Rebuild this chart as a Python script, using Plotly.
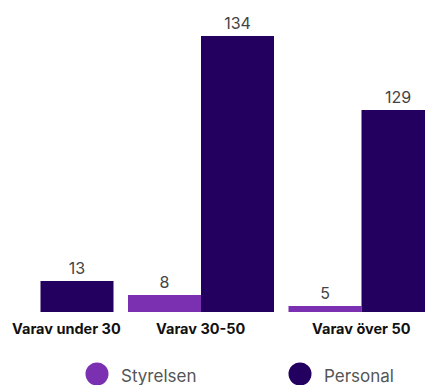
import plotly.graph_objects as go

# ---- data ----
categories = ["Varav under 30", "Varav 30-50", "Varav över 50"]
series_names = ["Styrelsen", "Personal"]
styrelsen_labels = [None, 8, 5]
personal_labels = [13, 134, 129]
# bar lengths as drawn in the reference picture
styrelsen_bars = [None, 8.25, 2.9]
personal_bars = [15.1, 134, 98.1]
colors = ["#7a30b0", "#23005f"]

W, H = 425, 385
plot_bottom = 73
x_idx = list(range(len(categories)))

fig = go.Figure()
for name, bars, labels, col in zip(series_names,
                                    [styrelsen_bars, personal_bars],
                                    [styrelsen_labels, personal_labels],
                                    colors):
    fig.add_trace(go.Bar(
        x=x_idx, y=bars, name=name,
        marker=dict(color=col, line=dict(width=0)),
        text=[("" if v is None else str(v)) for v in labels],
        texttemplate="%{text}",
        textposition="outside",
        textfont=dict(family="Inter, sans-serif", size=16, color="#444444"),
        cliponaxis=False,
        showlegend=False,
        hoverinfo="skip",
    ))

cat_font = dict(family="Inter, sans-serif", size=14.5, color="#111111")
annotations = []
for i, cat in enumerate(categories):
    if i == 0:
        annotations.append(dict(text=f"<b>{cat}</b>", xref="paper", x=0, xanchor="left", xshift=10,
                                yref="paper", y=0, yanchor="middle", yshift=-16, showarrow=False,
                                font=cat_font))
    else:
        annotations.append(dict(text=f"<b>{cat}</b>", xref="x", x=i, xanchor="center",
                                yref="paper", y=0, yanchor="middle", yshift=-16, showarrow=False,
                                font=cat_font))

# custom legend with large circular markers
plot_h = H - plot_bottom
legend_y = (plot_h - 374) / plot_h
legend_x_px = [97, 300]
shapes = []
for name, col, cx in zip(series_names, colors, legend_x_px):
    shapes.append(dict(type="circle", xref="paper", yref="paper",
                       xsizemode="pixel", ysizemode="pixel",
                       xanchor=cx / W, yanchor=legend_y,
                       x0=-11.5, x1=11.5, y0=-11.5, y1=11.5,
                       fillcolor=col, line=dict(width=0)))
    annotations.append(dict(text=name, xref="paper", x=(cx + 22) / W, xanchor="left",
                            yref="paper", y=legend_y, yanchor="middle", yshift=-2,
                            showarrow=False,
                            font=dict(family="Inter, sans-serif", size=17, color="#555555")))

px_per_unit = 160.5
first_center_px = 40.5
fig.update_layout(
    width=W, height=H,
    margin=dict(l=0, r=0, t=0, b=plot_bottom, pad=0),
    paper_bgcolor="white", plot_bgcolor="white",
    barmode="group", bargap=1 - 146 / px_per_unit, bargroupgap=0,
    xaxis=dict(range=[-first_center_px / px_per_unit, (W - first_center_px) / px_per_unit],
               showticklabels=False, showgrid=False, zeroline=False, showline=False,
               fixedrange=True),
    yaxis=dict(range=[0, plot_h / (276 / 134)], visible=False, showgrid=False,
               zeroline=False, fixedrange=True),
    annotations=annotations,
    shapes=shapes,
    showlegend=False,
)

fig.write_html("out.html", config={"displayModeBar": False})
